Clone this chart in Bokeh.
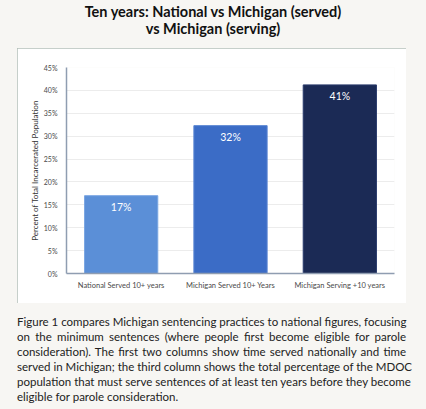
from bokeh.plotting import figure
from bokeh.layouts import column
from bokeh.models import Div, FixedTicker, PrintfTickFormatter
from bokeh.core.properties import value
from bokeh.embed import file_html
from bokeh.resources import INLINE

title_lines = ["Ten years: National vs Michigan (served)", "vs Michigan (serving)"]
categories = ["National Served 10+ years", "Michigan Served 10+ Years", "Michigan Serving +10 years"]
values = [17.0, 32.3, 41.2]
value_labels = ["17%", "32%", "41%"]
bar_colors = ["#5b8fd7", "#3b6cc6", "#1b2a55"]
bar_edges = ["#7aa6e2", "#5a85d2", "#2a3b6c"]
y_ticks = [0, 5, 10, 15, 20, 25, 30, 35, 40, 45]
y_axis_label = "Percent of Total Incarcerated Population"
caption_lines = [
    "Figure 1 compares Michigan sentencing practices to national figures, focusing",
    "on the minimum sentences (where people first become eligible for parole",
    "consideration). The first two columns show time served nationally and time",
    "served in Michigan; the third column shows the total percentage of the MDOC",
    "population that must serve sentences of at least ten years before they become",
    "eligible for parole consideration.",
]

W, H = 426, 409
BG = "#f7f6f3"
BXL, BXR, BYT, BYB = 17, 406, 48, 303          # white chart box (page px)
FL, FR, FT, FB = 66, 394, 67, 273              # plot frame (page px)

# ---- title ----
title_html = ('<div style="width:%dpx;padding-top:4px;text-align:center;font-family:Lato;'
              'font-weight:bold;font-size:14.5px;line-height:16.5px;color:#111111;">' % W
              + "<br>".join(title_lines) + "</div>")
title_div = Div(text=title_html, width=W, height=BYT, margin=(0, 0, 0, 0))

# ---- chart ----
p = figure(x_range=categories, y_range=(0, 45), width=BXR - BXL, height=BYB - BYT,
           output_backend="svg", toolbar_location=None,
           min_border_left=FL - BXL, min_border_right=BXR - FR,
           min_border_top=FT - BYT, min_border_bottom=BYB - FB,
           margin=(0, 0, 0, BXL),
           styles={"outline": "1.5px solid #b3bfb9", "outline-offset": "-1px"})
p.border_fill_color = "white"
p.background_fill_color = "white"
p.outline_line_color = None

p.vbar(x=categories, top=values, width=0.67, fill_color=bar_colors,
       line_color=bar_edges, line_width=1)
p.text(x=categories, y=values, text=value_labels, text_align="center",
       text_baseline="top", y_offset=5, text_color="white",
       text_font_size="10.5px", text_font=value("Lato"))

p.xgrid.grid_line_color = None
p.ygrid.ticker = FixedTicker(ticks=y_ticks)
p.ygrid.grid_line_color = "#ececec"

p.yaxis.ticker = FixedTicker(ticks=y_ticks)
p.yaxis.formatter = PrintfTickFormatter(format="%d%%")
p.yaxis.axis_label = y_axis_label
for ax in (p.xaxis[0], p.yaxis[0]):
    ax.major_tick_line_color = None
    ax.minor_tick_line_color = None
    ax.axis_line_color = "#8f9db1"
    ax.axis_line_width = 1.5
    ax.major_label_text_font = "Lato"
    ax.major_label_text_color = "#4a4a4a"
p.xaxis.major_label_text_font_size = "7.5px"
p.xaxis.major_label_standoff = 1
p.yaxis.major_label_text_font_size = "7px"
p.yaxis.major_label_standoff = 3
p.yaxis.axis_label_text_font = "Lato"
p.yaxis.axis_label_text_font_size = "8px"
p.yaxis.axis_label_text_font_style = "normal"
p.yaxis.axis_label_text_color = "#333333"
p.yaxis.axis_label_standoff = 1

# ---- caption (justified lines) ----
line_style_j = "text-align:justify;text-align-last:justify;white-space:nowrap;"
line_style_l = "text-align:left;white-space:nowrap;"
cap_inner = "".join(
    '<div style="%s">%s</div>' % (line_style_j if i < len(caption_lines) - 1 else line_style_l, t)
    for i, t in enumerate(caption_lines))
caption_html = ('<div style="width:%dpx;font-family:Lato;font-size:11.5px;line-height:15px;color:#222222;">'
                % (BXR - BXL) + cap_inner + "</div>")
caption_div = Div(text=caption_html, width=BXR - BXL, margin=(11, 0, 0, BXL))

layout = column(title_div, p, caption_div, spacing=0)
html = file_html(layout, INLINE)
html = html.replace("</head>", "<style>html, body {background-color: %s;}</style></head>" % BG, 1)
open("out.html", "w").write(html)
